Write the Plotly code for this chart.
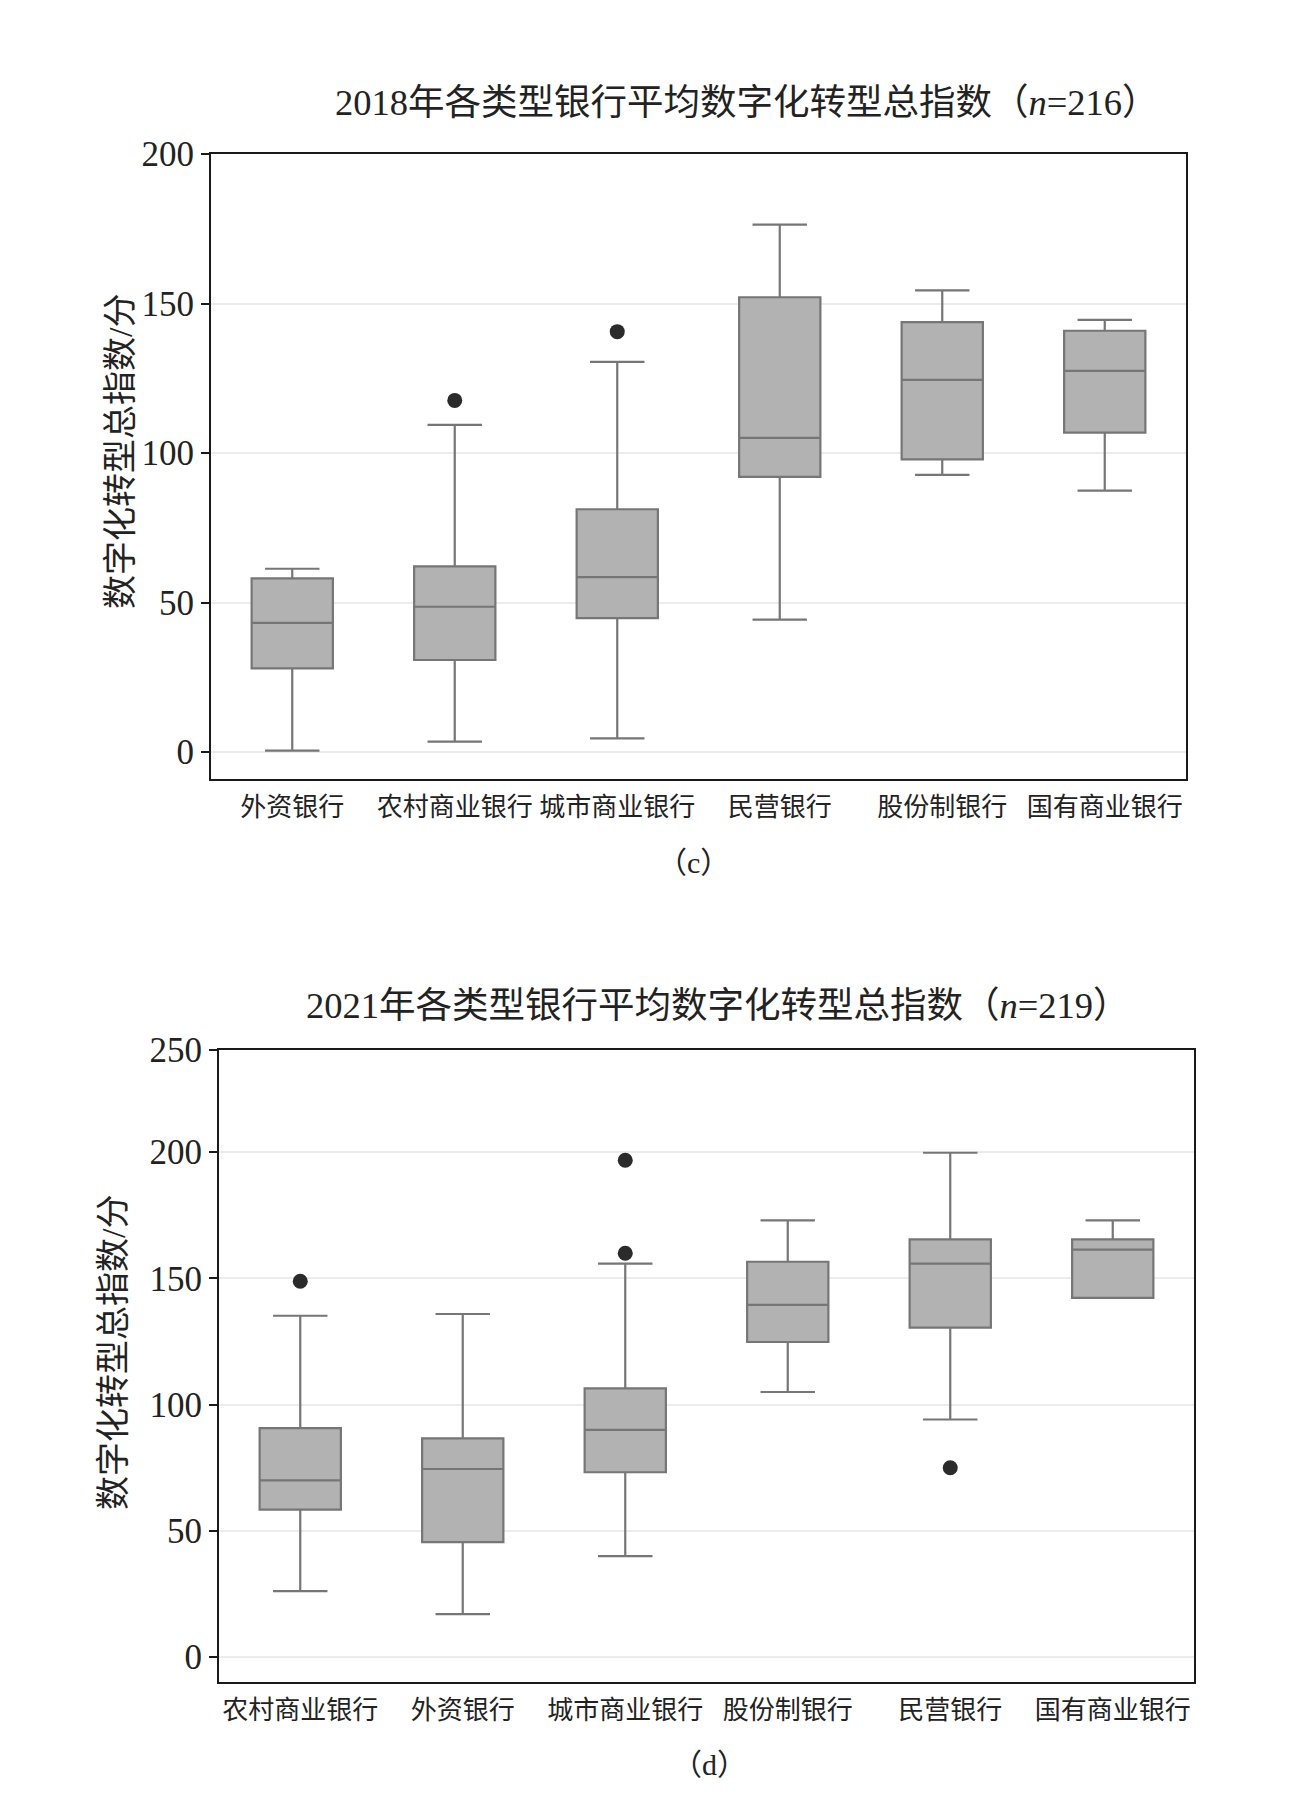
import plotly.graph_objects as go

# ---------------- data: 2018 (panel c) ----------------
cats_2018 = ["外资银行", "农村商业银行", "城市商业银行", "民营银行", "股份制银行", "国有商业银行"]
lower_2018 = [0.5, 3.5, 4.6, 44.3, 92.7, 87.4]
q1_2018 = [28.0, 30.8, 44.8, 92.0, 97.9, 106.8]
median_2018 = [43.2, 48.6, 58.5, 105.1, 124.5, 127.5]
q3_2018 = [58.1, 62.1, 81.2, 152.1, 143.8, 140.9]
upper_2018 = [61.3, 109.4, 130.5, 176.4, 154.4, 144.5]
out_cats_2018 = ["农村商业银行", "城市商业银行"]
out_vals_2018 = [117.6, 140.6]

# ---------------- data: 2021 (panel d) ----------------
cats_2021 = ["农村商业银行", "外资银行", "城市商业银行", "股份制银行", "民营银行", "国有商业银行"]
lower_2021 = [26.1, 17.0, 40.0, 105.0, 94.1, 142.3]
q1_2021 = [58.4, 45.5, 73.2, 124.8, 130.5, 142.3]
median_2021 = [70.0, 74.5, 90.0, 139.5, 155.9, 161.4]
q3_2021 = [90.7, 86.6, 106.4, 156.6, 165.5, 165.5]
upper_2021 = [135.2, 135.9, 155.9, 173.0, 199.8, 173.0]
out_cats_2021 = ["农村商业银行", "城市商业银行", "城市商业银行", "民营银行"]
out_vals_2021 = [148.9, 160.0, 196.8, 75.0]

yticks_2018 = [0, 50, 100, 150, 200]
yticks_2021 = [0, 50, 100, 150, 200, 240.5]
yticktext_2021 = ["0", "50", "100", "150", "200", "250"]

FONT = "Liberation Serif, Noto Sans CJK SC"
FILL = "#b2b2b2"
LINE = "#767676"
DOT = "#2b2b2b"
W, H = 1309, 1805

fig = go.Figure()

def add_panel(cats, lo, q1, med, q3, hi, ocats, ovals, xa, ya):
    fig.add_trace(go.Box(
        x=cats, q1=q1, median=med, q3=q3, lowerfence=lo, upperfence=hi,
        fillcolor=FILL, line=dict(color=LINE, width=2.2),
        width=0.5, whiskerwidth=0.67, boxpoints=False,
        xaxis=xa, yaxis=ya, showlegend=False, hoverinfo="skip"))
    fig.add_trace(go.Scatter(
        x=ocats, y=ovals, mode="markers",
        marker=dict(color=DOT, size=15),
        xaxis=xa, yaxis=ya, showlegend=False, hoverinfo="skip"))

add_panel(cats_2018, lower_2018, q1_2018, median_2018, q3_2018, upper_2018,
          out_cats_2018, out_vals_2018, "x", "y")
add_panel(cats_2021, lower_2021, q1_2021, median_2021, q3_2021, upper_2021,
          out_cats_2021, out_vals_2021, "x2", "y2")

xcommon = dict(type="category", showline=True, mirror=True, linecolor="#1a1a1a",
               linewidth=2.2, showgrid=False, ticks="", zeroline=False,
               tickangle=0, automargin=False,
               tickfont=dict(family=FONT, size=26, color="#222"),
               ticklabelstandoff=4, range=[-0.5, 5.5])
ycommon = dict(showline=True, mirror=True, linecolor="#1a1a1a", linewidth=2.2,
               ticks="outside", ticklen=8, tickwidth=2, tickcolor="#1a1a1a",
               showgrid=True, gridcolor="#ececec", gridwidth=2, zeroline=False,
               automargin=False,
               tickfont=dict(family=FONT, size=35, color="#222"))

fig.update_layout(
    template="none",
    width=W, height=H, margin=dict(l=0, r=0, t=0, b=0, autoexpand=False),
    paper_bgcolor="white", plot_bgcolor="white",
    font=dict(family=FONT, color="#222"),
    xaxis=dict(domain=[203 / W, 1178 / W], anchor="y",
               categoryorder="array", categoryarray=cats_2018, **xcommon),
    yaxis=dict(domain=[1 - 771 / H, 1 - 146 / H], anchor="x", range=[-9, 200],
               tickvals=yticks_2018, **ycommon),
    xaxis2=dict(domain=[211 / W, 1186 / W], anchor="y2",
                categoryorder="array", categoryarray=cats_2021, **xcommon),
    yaxis2=dict(domain=[1 - 1674 / H, 1 - 1042 / H], anchor="x2", range=[-9.9, 240.5],
                tickvals=yticks_2021, ticktext=yticktext_2021, **ycommon),
)

def ann(text, x, y, size, angle=0):
    fig.add_annotation(text=text, x=x / W, y=1 - y / H, xref="paper", yref="paper",
                       showarrow=False, xanchor="center", yanchor="middle",
                       textangle=angle, font=dict(family=FONT, size=size, color="#222"))

ann("2018年各类型银行平均数字化转型总指数（<i>n</i>=216）", 739, 95, 36.5)
ann("2021年各类型银行平均数字化转型总指数（<i>n</i>=219）", 710, 997, 36.5)
ann("数字化转型总指数/分", 112, 444, 34, -90)
ann("数字化转型总指数/分", 105, 1345, 34, -90)
ann("（c）", 685, 854, 30)
ann("（d）", 701, 1756, 30)

fig.write_html("out.html")
